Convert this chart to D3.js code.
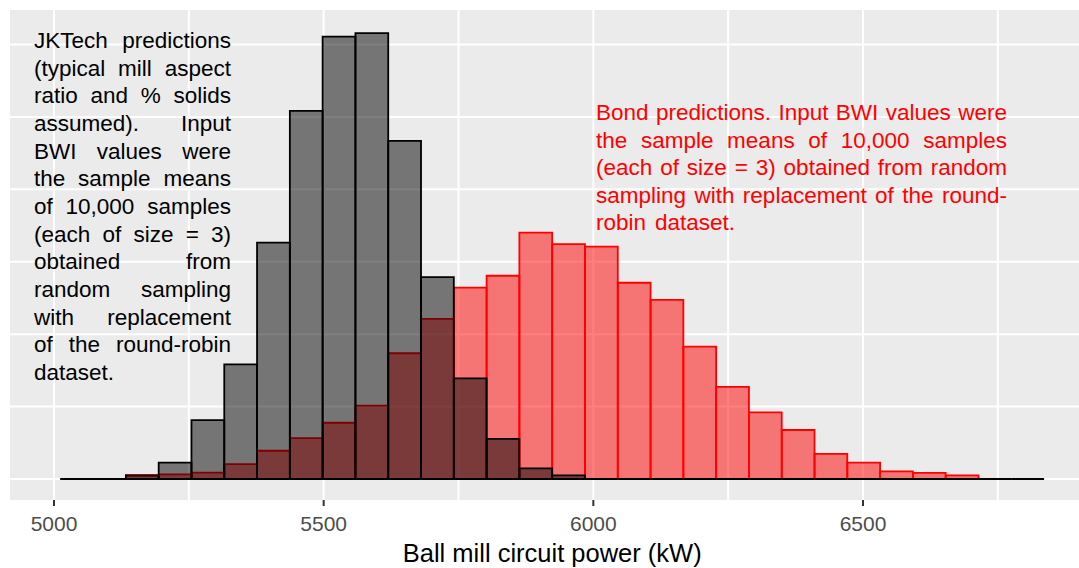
<!DOCTYPE html>
<html>
<head>
<meta charset="utf-8">
<script src="https://cdn.jsdelivr.net/npm/d3@7"></script>
<style>
  html, body { margin: 0; padding: 0; background: #ffffff; }
  svg { display: block; font-family: "Liberation Sans", Arial, sans-serif; }
</style>
</head>
<body>
<svg id="chart" width="1079" height="568"></svg>
<script>
// ---- data ----
const binEdges = [5011.7, 5072.5, 5133.3, 5194.1, 5254.9, 5315.7, 5376.5, 5437.3, 5498.1, 5558.9,
                  5619.7, 5680.5, 5741.3, 5802.1, 5862.9, 5923.7, 5984.5, 6045.3, 6106.1, 6166.9,
                  6227.7, 6288.5, 6349.3, 6410.1, 6470.9, 6531.7, 6592.5, 6653.3, 6714.1, 6774.9, 6835.7];
const jktechCounts = [0, 0, 14, 68, 244, 475, 979, 1525, 1833, 1847, 1401, 836, 417, 166, 44, 15,
                      0, 0, 0, 0, 0, 0, 0, 0, 0, 0, 0, 0, 0, 0];
const bondCounts = [0, 0, 17, 19, 26, 62, 117, 169, 233, 304, 521, 663, 793, 842, 1021, 973,
                    963, 813, 742, 548, 382, 276, 203, 104, 68, 32, 25, 15, 0, 0];
const xTicks = [5000, 5500, 6000, 6500];
const xMinorGrid = [5250, 5750, 6250, 6750];
const yGrid = [0, 300, 600, 900, 1200, 1500, 1800];
const xTitle = "Ball mill circuit power (kW)";
const jktechLines = [
  "JKTech predictions",
  "(typical mill aspect",
  "ratio and % solids",
  "assumed). Input",
  "BWI values were",
  "the sample means",
  "of 10,000 samples",
  "(each of size = 3)",
  "obtained from",
  "random sampling",
  "with replacement",
  "of the round-robin",
  "dataset."
];
const bondLines = [
  "Bond predictions. Input BWI values were",
  "the sample means of 10,000 samples",
  "(each of size = 3) obtained from random",
  "sampling with replacement of the round-",
  "robin dataset."
];

// ---- layout ----
const panel = { left: 10, top: 10, right: 1079, bottom: 500 };
const svg = d3.select("#chart");

const x = d3.scaleLinear().domain([5000, 6500]).range([54, 863]);
const y = d3.scaleLinear().domain([-87, 1943]).range([panel.bottom, panel.top]);

// panel background
svg.append("rect")
  .attr("x", panel.left).attr("y", panel.top)
  .attr("width", panel.right - panel.left).attr("height", panel.bottom - panel.top)
  .attr("fill", "#EBEBEB");

const grid = svg.append("g");
grid.selectAll("line.hy").data(yGrid).join("line")
  .attr("x1", panel.left).attr("x2", panel.right)
  .attr("y1", d => y(d)).attr("y2", d => y(d))
  .attr("stroke", "#ffffff").attr("stroke-width", 2);
grid.selectAll("line.vx").data(xTicks.concat(xMinorGrid)).join("line")
  .attr("x1", d => x(d)).attr("x2", d => x(d))
  .attr("y1", panel.top).attr("y2", panel.bottom)
  .attr("stroke", "#ffffff").attr("stroke-width", 2);

function barPath(i, c) {
  const x0 = x(binEdges[i]), x1 = x(binEdges[i + 1]);
  const y0 = y(0), y1 = y(c);
  return `M${x0},${y0}V${y1}H${x1}V${y0}Z`;
}

// Bond (red) histogram
svg.append("g").selectAll("path").data(bondCounts).join("path")
  .attr("d", (c, i) => barPath(i, c))
  .attr("fill", "#FF0000").attr("fill-opacity", 0.5)
  .attr("stroke", "#FF0000").attr("stroke-width", 1.8);

// JKTech (grey) histogram
svg.append("g").selectAll("path").data(jktechCounts).join("path")
  .attr("d", (c, i) => barPath(i, c))
  .attr("fill", "#000000").attr("fill-opacity", 0.5)
  .attr("stroke", "#000000").attr("stroke-width", 1.8);

// x axis ticks and labels
const axis = svg.append("g");
axis.selectAll("line").data(xTicks).join("line")
  .attr("x1", d => x(d)).attr("x2", d => x(d))
  .attr("y1", panel.bottom).attr("y2", panel.bottom + 6)
  .attr("stroke", "#333333").attr("stroke-width", 2);
axis.selectAll("text").data(xTicks).join("text")
  .attr("x", d => x(d)).attr("y", 531)
  .attr("text-anchor", "middle")
  .attr("font-size", 21).attr("fill", "#4D4D4D")
  .text(d => d);

svg.append("text")
  .attr("x", x(5923.7)).attr("y", 561.5)
  .attr("text-anchor", "middle")
  .attr("font-size", 25.5).attr("fill", "#000000")
  .text(xTitle);

// justified annotation blocks
function justify(lines, x0, x1, y0, dy, color, size) {
  const g = svg.append("g").attr("font-size", size).attr("fill", color);
  lines.forEach((line, li) => {
    const words = line.split(" ");
    const t = g.append("text").attr("y", y0 + li * dy);
    const spans = words.map(w => t.append("tspan").text(w));
    const widths = spans.map(s => s.node().getComputedTextLength());
    const total = d3.sum(widths);
    const last = li === lines.length - 1;
    const gap = (!last && words.length > 1) ? (x1 - x0 - total) / (words.length - 1) : size * 0.4;
    let cx = x0;
    spans.forEach((s, i) => { s.attr("x", cx); cx += widths[i] + gap; });
  });
}
justify(jktechLines, 34, 231, 48, 27.67, "#000000", 22.5);
justify(bondLines, 596, 1007, 120, 27.5, "#FF0000", 22.5);
</script>
</body>
</html>
